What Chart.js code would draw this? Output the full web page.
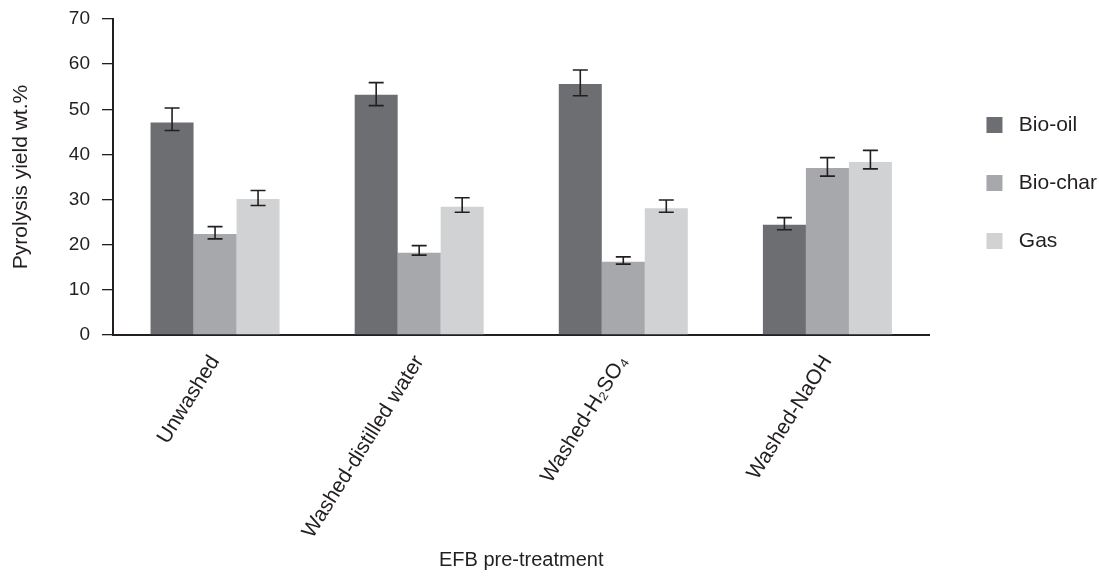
<!DOCTYPE html>
<html>
<head>
<meta charset="utf-8">
<script src="https://cdn.jsdelivr.net/npm/chart.js@4/dist/chart.umd.min.js"></script>
<style>
  html, body { margin: 0; padding: 0; background: #fff; }
</style>
</head>
<body>
<canvas id="yieldChart" width="1099" height="577"></canvas>
<script>
const categories = ["Unwashed", "Washed-distilled water", "Washed-H\u2082SO\u2084", "Washed-NaOH"]
const yTicks = [0, 10, 20, 30, 40, 50, 60, 70]

const bioOil = [47.1, 53.2, 55.6, 24.4]
const bioChar = [22.4, 18.2, 16.2, 37.0]
const gas = [30.1, 28.4, 28.1, 38.3]

// error bar ends (upper / lower)
const bioOilHi = [50.3, 55.9, 58.7, 26.0]
const bioOilLo = [45.3, 50.8, 53.0, 23.3]
const bioCharHi = [24.0, 19.8, 17.3, 39.3]
const bioCharLo = [21.3, 17.7, 15.7, 35.2]
const gasHi = [32.0, 30.4, 29.9, 40.9]
const gasLo = [28.7, 27.2, 27.2, 36.8]

const ink = '#231f20'
const font = "'Liberation Sans', Arial, Helvetica, sans-serif"

const errorBars = {
  id: 'errorBars',
  afterDatasetsDraw(chart) {
    const ctx = chart.ctx
    const y = chart.scales.y
    ctx.save()
    ctx.strokeStyle = ink
    ctx.lineWidth = 1.6
    chart.data.datasets.forEach((ds, i) => {
      const meta = chart.getDatasetMeta(i)
      meta.data.forEach((bar, j) => {
        const top = y.getPixelForValue(ds.errHi[j])
        const bot = y.getPixelForValue(ds.errLo[j])
        const half = 7.5
        ctx.beginPath()
        ctx.moveTo(bar.x, top)
        ctx.lineTo(bar.x, bot)
        ctx.moveTo(bar.x - half, top)
        ctx.lineTo(bar.x + half, top)
        ctx.moveTo(bar.x - half, bot)
        ctx.lineTo(bar.x + half, bot)
        ctx.stroke()
      })
    })
    ctx.restore()
  }
}

new Chart(document.getElementById('yieldChart'), {
  type: 'bar',
  data: {
    labels: categories,
    datasets: [
      { label: 'Bio-oil', data: bioOil, errHi: bioOilHi, errLo: bioOilLo, backgroundColor: '#6d6e71' },
      { label: 'Bio-char', data: bioChar, errHi: bioCharHi, errLo: bioCharLo, backgroundColor: '#a7a8ab' },
      { label: 'Gas', data: gas, errHi: gasHi, errLo: gasLo, backgroundColor: '#d1d2d4' }
    ]
  },
  options: {
    responsive: false,
    animation: false,
    categoryPercentage: 0.632,
    barPercentage: 1,
    layout: { padding: { top: 19, right: -8, left: 0, bottom: 0 } },
    plugins: {
      tooltip: { enabled: false },
      legend: {
        position: 'right',
        fullSize: false,
        title: { display: true, text: ' ', padding: 0, font: { size: 10 } },
        labels: {
          boxWidth: 16,
          boxHeight: 16,
          padding: 37,
          color: ink,
          font: { family: font, size: 21 },
          generateLabels: chart =>
            Chart.defaults.plugins.legend.labels.generateLabels(chart)
              .map(item => ({ ...item, text: ' ' + item.text }))
        }
      }
    },
    scales: {
      x: {
        grid: { display: false },
        border: { color: ink, width: 2 },
        ticks: {
          autoSkip: false,
          maxRotation: 58,
          minRotation: 58,
          padding: 8,
          color: ink,
          font: { family: font, size: 21 }
        },
        title: {
          display: true,
          text: 'EFB pre-treatment',
          color: ink,
          padding: { top: 0, bottom: 5 },
          font: { family: font, size: 20 }
        },
        afterFit: s => { s.height = 577 - 335 }
      },
      y: {
        min: 0,
        max: 70,
        afterBuildTicks: s => { s.ticks = yTicks.map(v => ({ value: v })) },
        grid: { drawOnChartArea: false, drawTicks: true, tickLength: 11, color: ink, lineWidth: 1.3 },
        border: { color: ink, width: 2 },
        ticks: {
          padding: 12,
          color: ink,
          font: { family: font, size: 19 }
        },
        title: {
          display: true,
          text: 'Pyrolysis yield wt.%',
          color: ink,
          padding: { top: 9, bottom: 0 },
          font: { family: font, size: 21 }
        },
        afterFit: s => {
          s.width = 113
          s.paddingTop = 12
          s.paddingBottom = 12
        }
      },
      gap: {
        position: 'right',
        display: true,
        grid: { display: false },
        border: { display: false },
        ticks: { display: false },
        afterFit: s => { s.width = 20 }
      }
    }
  },
  plugins: [errorBars]
})
</script>
</body>
</html>
